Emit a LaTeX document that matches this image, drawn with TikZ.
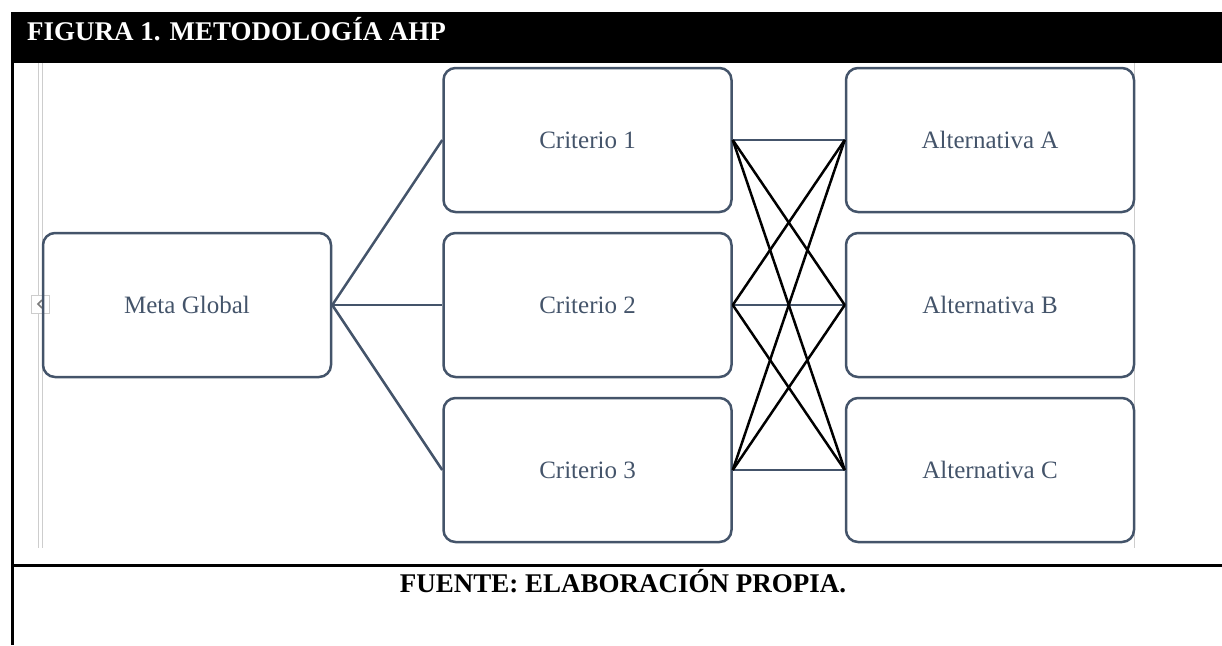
\documentclass[tikz,border=0pt]{standalone}
\usepackage{fontspec}
\setmainfont{Liberation Serif}
\usepackage{xcolor}
\usepackage{tikz}
\usetikzlibrary{positioning}
\definecolor{Slate}{RGB}{68, 84, 106}
\definecolor{Frame}{RGB}{205, 205, 205}
\definecolor{Ink}{RGB}{0, 0, 0}

\begin{document}
\begin{tikzpicture}[x=1pt, y=-1pt,
    box/.style={rectangle, rounded corners=12pt, minimum height=144pt, minimum width=288pt,
                align=center, draw=Slate, line width=2.5pt, text=Slate, font=\fontsize{25}{29}\selectfont},
    link/.style={line width=2.5pt, Slate},
    cross/.style={line width=2.5pt, Ink},
    rule/.style={line width=3pt, Ink},
    guide/.style={line width=1pt, Frame},
]
\useasboundingbox (0,0) rectangle (1222,645);

\fill[Ink] (11,12) rectangle (1222,63);
\draw[rule] (12.5,12) -- (12.5,645);
\draw[rule] (11,565) -- (1222,565);
\node[anchor=base west, inner sep=0pt, text=white, font=\fontsize{27}{30}\selectfont\bfseries]
      (titulo) at (27,40) {FIGURA 1. METODOLOGÍA AHP};
\node[anchor=base, inner sep=0pt, font=\fontsize{27}{30}\selectfont\bfseries]
      (fuente) at (623,592) {FUENTE: ELABORACIÓN PROPIA.};

\draw[guide] (38,63) -- (38,548);
\draw[guide] (42,63) -- (42,548);
\draw[guide] (1134,63) -- (1134,548);
\draw[guide, fill=white] (31,295) rectangle (49,313);
\draw[line width=1.5pt, Frame!60!black] (42,300) -- (38,304) -- (42,308);

\node[box] (meta) at (187,305) {Meta Global};
\node[box] (crit1) at (587.5,140) {Criterio 1};
\node[box] (crit2) at (587.5,305) {Criterio 2};
\node[box] (crit3) at (587.5,470) {Criterio 3};
\node[box] (altA) at (990,140) {Alternativa A};
\node[box] (altB) at (990,305) {Alternativa B};
\node[box] (altC) at (990,470) {Alternativa C};

\draw[link] (meta.east) -- (crit1.west);
\draw[link] (meta.east) -- (crit2.west);
\draw[link] (meta.east) -- (crit3.west);
\draw[link] (crit1.east) -- (altA.west);
\draw[link] (crit2.east) -- (altB.west);
\draw[link] (crit3.east) -- (altC.west);

\draw[cross] (crit1.east) -- (altB.west);
\draw[cross] (crit1.east) -- (altC.west);
\draw[cross] (crit2.east) -- (altA.west);
\draw[cross] (crit2.east) -- (altC.west);
\draw[cross] (crit3.east) -- (altA.west);
\draw[cross] (crit3.east) -- (altB.west);
\end{tikzpicture}
\end{document}
